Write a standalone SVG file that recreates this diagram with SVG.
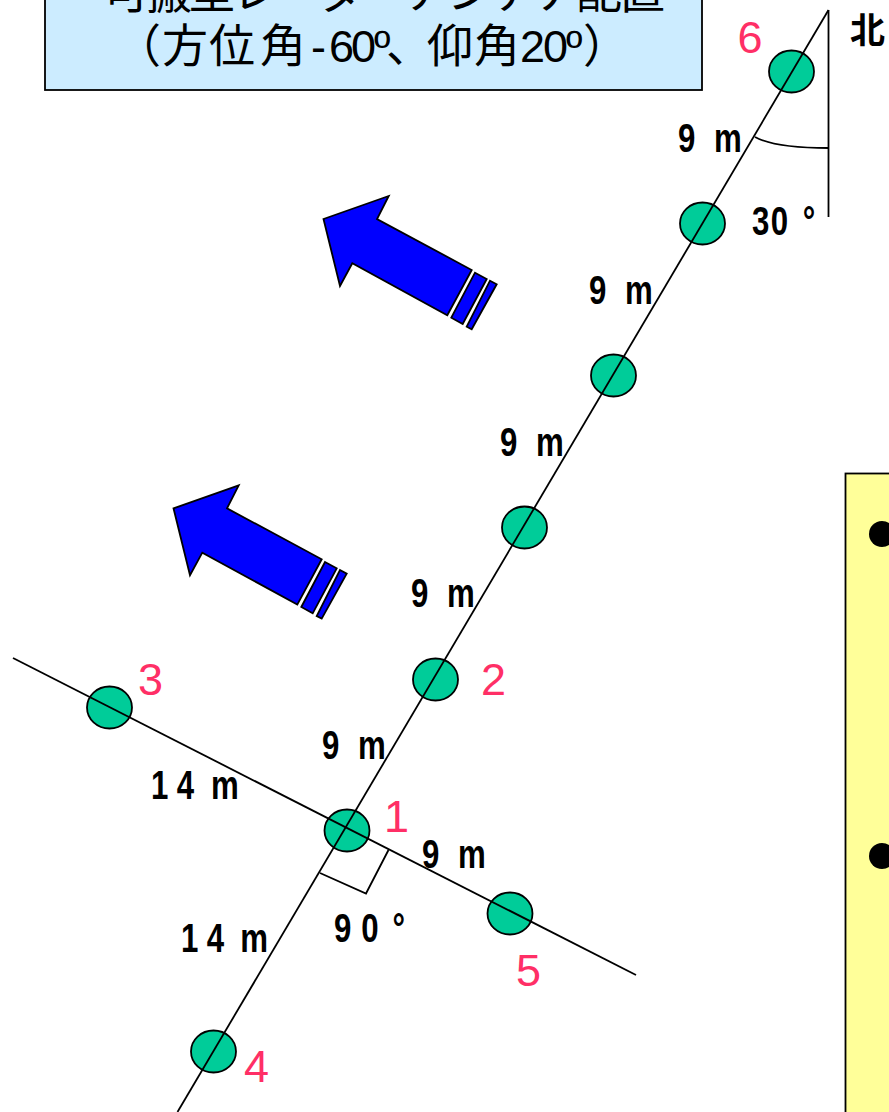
<svg xmlns="http://www.w3.org/2000/svg" width="889" height="1112" viewBox="0 0 889 1112">
<style>
.box{stroke:#000;stroke-width:1.8}
.ant{fill:#00CC99;stroke:#000;stroke-width:1.8}
.num{font:45px "Liberation Sans",sans-serif;fill:#FF2F66}
.ttl{font:45px "Liberation Sans","Noto Sans CJK JP",sans-serif;fill:#000}
.cjk{font-family:"Noto Sans CJK JP",sans-serif;font-size:46px}
.dim{font:bold 40px "Liberation Sans",sans-serif;fill:#000}
.line{fill:none;stroke:#000;stroke-width:1.8}
.arr{fill:#0000FF;stroke:#000;stroke-width:1.8;stroke-linejoin:miter}
</style>
<defs>
<g id="wind">
<polygon class="arr" points="323.500,219 388.700,196 377,219 471.700,270 447.300,315.300 352.300,263.300 340,286"/>
<polygon class="arr" points="475,272.700 486.700,279 462.700,324 451.300,317.700"/>
<polygon class="arr" points="490,280.700 496.700,284.300 471.700,329.300 466.700,326.700"/>
</g>
</defs>
<g id="title">
<rect class="box" x="45" y="-60" width="657" height="150" fill="#CCECFF"/>
<text class="ttl cjk" x="103 146 189 232 275 318 361 404 447 490 533 576 619" y="8">可搬型レーダーアンテナ配置</text>
<text class="ttl" y="62" x="115 162 209 260 311 329 351 374 386 427 474 520 543 566 583"><tspan class="cjk">（方位角</tspan>-60º<tspan class="cjk">、仰角</tspan>20º<tspan class="cjk">）</tspan></text>
</g>
<g id="wind1"><use href="#wind"/></g>
<g id="wind2"><use href="#wind" x="-150" y="289.300"/></g>
<g id="note">
<rect class="box" x="845.500" y="473.500" width="60" height="700" fill="#FFFF99"/>
<circle cx="882" cy="534" r="13" fill="#000"/>
<circle cx="882" cy="856" r="13" fill="#000"/>
</g>
<g id="node6"><ellipse class="ant" cx="791.500" cy="71.500" rx="22.500" ry="21"/><text class="num" x="737.500" y="53">6</text></g>
<g id="nodeA"><ellipse class="ant" cx="702.500" cy="223.500" rx="22.500" ry="21"/></g>
<g id="nodeB"><ellipse class="ant" cx="613.500" cy="375.500" rx="22.500" ry="21"/></g>
<g id="nodeC"><ellipse class="ant" cx="524.500" cy="527.500" rx="22.500" ry="21"/></g>
<g id="node2"><ellipse class="ant" cx="435.500" cy="679.500" rx="22.500" ry="21"/><text class="num" x="481" y="695">2</text></g>
<g id="node1"><ellipse class="ant" cx="347" cy="830.500" rx="22.500" ry="21"/><text class="num" x="384" y="832">1</text></g>
<g id="node3"><ellipse class="ant" cx="109.500" cy="707.500" rx="22.500" ry="21"/><text class="num" x="138" y="695">3</text></g>
<g id="node4"><ellipse class="ant" cx="213.500" cy="1051.500" rx="22.500" ry="21"/><text class="num" x="244" y="1082">4</text></g>
<g id="node5"><ellipse class="ant" cx="510" cy="913.500" rx="22.500" ry="21"/><text class="num" x="516" y="986">5</text></g>
<g id="connectors">
<line class="line" x1="828.500" y1="10" x2="177.500" y2="1112"/>
<line class="line" x1="13" y1="658" x2="636" y2="975"/>
<line class="line" x1="828.500" y1="10" x2="828.500" y2="217"/>
<path class="line" d="M755,137Q775,148 828.500,148"/>
<polyline class="line" points="320,873 366,893.500 388.500,850"/>
</g>
<g id="labels">
<text class="dim" transform="translate(678,152) scale(.78,1)" x="0 22 46">9 m</text>
<text class="dim" transform="translate(589,304) scale(.78,1)" x="0 22 46">9 m</text>
<text class="dim" transform="translate(500,456) scale(.78,1)" x="0 22 46">9 m</text>
<text class="dim" transform="translate(411,607) scale(.78,1)" x="0 22 46">9 m</text>
<text class="dim" transform="translate(322,759) scale(.78,1)" x="0 22 46">9 m</text>
<text class="dim" transform="translate(422,868) scale(.78,1)" x="0 22 46">9 m</text>
<text class="dim" transform="translate(151,799) scale(.78,1)" x="0 33 55 77">14 m</text>
<text class="dim" transform="translate(181,952) scale(.78,1)" x="0 33 55 76">14 m</text>
<text class="dim" transform="translate(334,942) scale(.78,1)" x="0 35 55 75">90 °</text>
<text class="dim" transform="translate(752,235) scale(.78,1)" x="0 24 45 65">30 °</text>
<text x="850" y="43" font-size="35" font-weight="700" font-family="'Noto Sans CJK JP',sans-serif">北</text>
</g>
</svg>
